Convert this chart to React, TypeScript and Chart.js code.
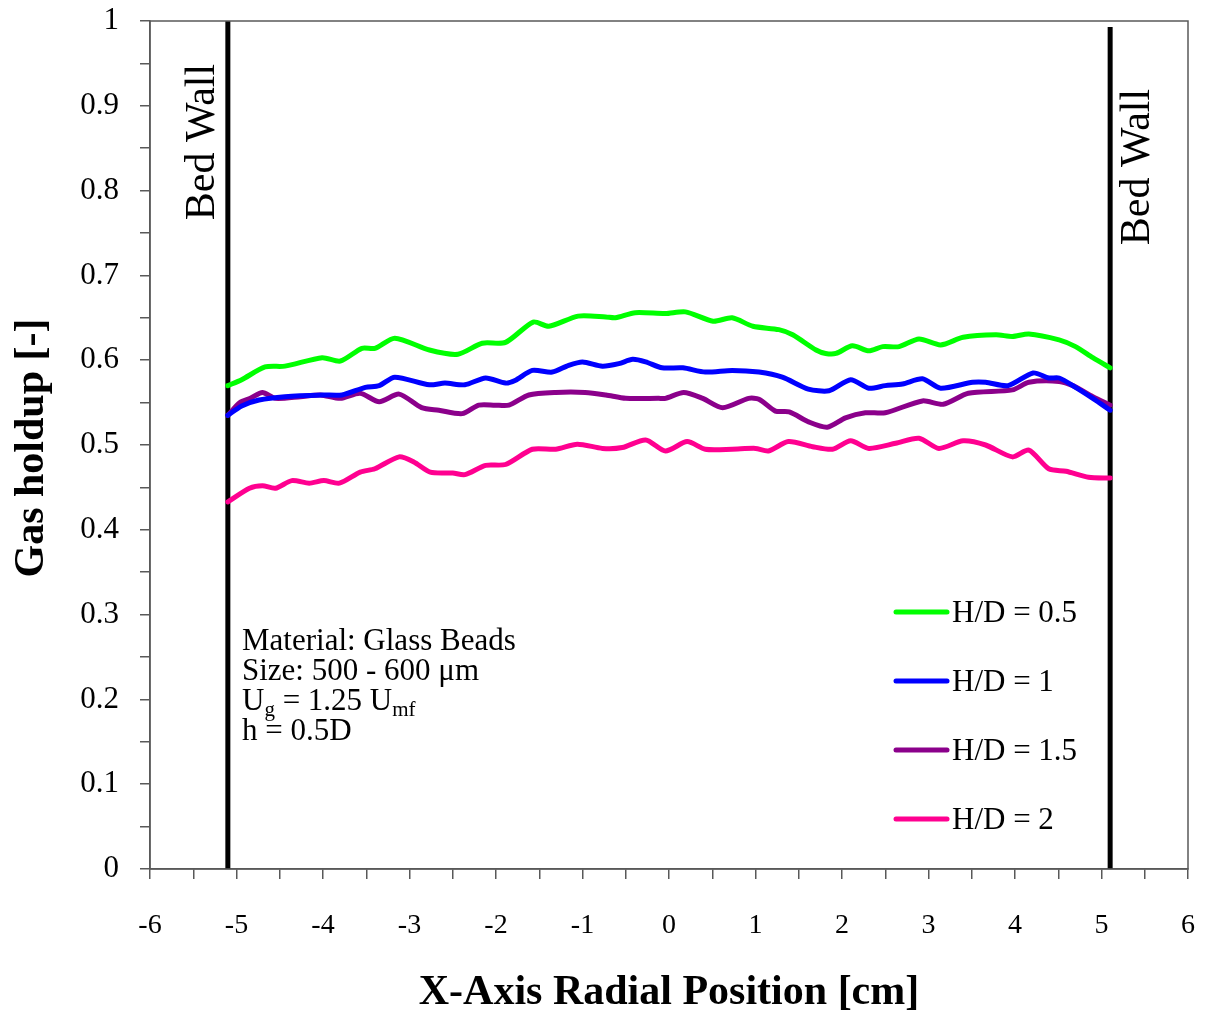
import { useEffect, useRef } from 'react';
import { Chart, registerables } from 'chart.js';
Chart.register(...registerables);

const SERIF = "'Liberation Serif', 'Times New Roman', serif";

const seriesLabels = ['H/D = 0.5', 'H/D = 1', 'H/D = 1.5', 'H/D = 2'];
const seriesColors = ['#00ff00', '#0000ff', '#8b008b', '#ff0090'];

const hd05X = [-5.1, -4.94, -4.67, -4.44, -4.01, -3.8, -3.55, -3.4, -3.17, -2.77, -2.44, -2.16, -1.89, -1.57, -1.39, -1.05, -0.73, -0.62, -0.39, -0.04, 0.19, 0.51, 0.73, 0.97, 1.27, 1.43, 1.7, 1.81, 1.93, 2.12, 2.31, 2.47, 2.66, 2.89, 3.14, 3.4, 3.78, 3.97, 4.16, 4.51, 4.7, 4.9, 5.1];
const hd05Y = [0.570, 0.577, 0.592, 0.593, 0.603, 0.599, 0.614, 0.614, 0.626, 0.612, 0.607, 0.620, 0.621, 0.645, 0.640, 0.652, 0.651, 0.650, 0.656, 0.655, 0.657, 0.646, 0.650, 0.640, 0.636, 0.630, 0.612, 0.608, 0.608, 0.617, 0.611, 0.616, 0.616, 0.625, 0.618, 0.627, 0.630, 0.628, 0.631, 0.624, 0.616, 0.603, 0.591];

const hd1X = [-5.1, -4.94, -4.74, -4.44, -4.01, -3.78, -3.51, -3.35, -3.17, -2.77, -2.59, -2.36, -2.12, -1.89, -1.78, -1.58, -1.35, -1.16, -1.0, -0.77, -0.58, -0.42, -0.27, -0.08, 0.16, 0.42, 0.73, 1.04, 1.31, 1.61, 1.85, 2.1, 2.31, 2.5, 2.7, 2.93, 3.14, 3.51, 3.66, 3.92, 4.21, 4.39, 4.51, 4.7, 4.9, 5.1];
const hd1Y = [0.535, 0.546, 0.553, 0.557, 0.559, 0.559, 0.568, 0.570, 0.580, 0.571, 0.573, 0.571, 0.579, 0.573, 0.576, 0.588, 0.586, 0.594, 0.598, 0.593, 0.596, 0.601, 0.598, 0.591, 0.591, 0.586, 0.588, 0.586, 0.580, 0.566, 0.564, 0.577, 0.567, 0.570, 0.572, 0.578, 0.567, 0.574, 0.574, 0.570, 0.585, 0.579, 0.579, 0.568, 0.555, 0.541];

const hd15X = [-5.1, -4.96, -4.84, -4.7, -4.55, -4.26, -4.03, -3.8, -3.57, -3.35, -3.12, -2.86, -2.66, -2.39, -2.2, -2.01, -1.85, -1.62, -1.31, -0.97, -0.73, -0.5, -0.12, -0.04, 0.17, 0.39, 0.62, 0.92, 1.04, 1.23, 1.39, 1.62, 1.83, 2.04, 2.27, 2.5, 2.93, 3.17, 3.46, 3.97, 4.16, 4.51, 4.67, 4.9, 5.1];
const hd15Y = [0.535, 0.550, 0.555, 0.562, 0.555, 0.557, 0.559, 0.555, 0.561, 0.551, 0.560, 0.544, 0.541, 0.537, 0.547, 0.547, 0.547, 0.559, 0.562, 0.562, 0.559, 0.555, 0.555, 0.555, 0.562, 0.555, 0.544, 0.555, 0.554, 0.540, 0.539, 0.527, 0.521, 0.532, 0.538, 0.538, 0.552, 0.548, 0.561, 0.565, 0.574, 0.575, 0.570, 0.557, 0.547];

const hd2X = [-5.1, -4.85, -4.7, -4.55, -4.36, -4.16, -3.99, -3.81, -3.57, -3.4, -3.12, -2.95, -2.76, -2.5, -2.36, -2.12, -1.89, -1.58, -1.31, -1.06, -0.77, -0.54, -0.27, -0.04, 0.21, 0.42, 0.73, 1.0, 1.15, 1.38, 1.66, 1.89, 2.1, 2.31, 2.62, 2.89, 3.12, 3.4, 3.66, 3.97, 4.16, 4.39, 4.59, 4.85, 5.1];
const hd2Y = [0.433, 0.449, 0.452, 0.449, 0.458, 0.455, 0.458, 0.455, 0.468, 0.472, 0.486, 0.480, 0.468, 0.467, 0.465, 0.476, 0.477, 0.495, 0.495, 0.501, 0.496, 0.497, 0.506, 0.493, 0.504, 0.495, 0.495, 0.496, 0.493, 0.504, 0.498, 0.495, 0.505, 0.496, 0.502, 0.508, 0.496, 0.505, 0.500, 0.486, 0.494, 0.472, 0.469, 0.462, 0.461];

const wallX = [-5.1, 5.1];
const wallTop = [1, 0.993];

const xTitle = 'X-Axis Radial Position [cm]';
const yTitle = 'Gas holdup [-]';
const wallLabel = 'Bed Wall';

const toPoints = (xs: number[], ys: number[]) => xs.map((x, i) => ({ x, y: ys[i] }));

const zeroPad = (s: any) => {
  s.paddingTop = 0;
  s.paddingBottom = 0;
  s.paddingLeft = 0;
  s.paddingRight = 0;
};

const overlay = {
  id: 'overlay',
  afterDraw(chart: any) {
    const { ctx, chartArea: a, scales } = chart;
    const xs = scales.x;
    ctx.save();
    // plot frame
    ctx.strokeStyle = '#595959';
    ctx.lineWidth = 1.5;
    ctx.strokeRect(a.left, a.top, a.right - a.left, a.bottom - a.top);

    ctx.fillStyle = '#000';
    // x title
    ctx.font = `bold 42px ${SERIF}`;
    ctx.textAlign = 'center';
    ctx.textBaseline = 'alphabetic';
    ctx.fillText(xTitle, (a.left + a.right) / 2, 1004);

    // y title
    ctx.save();
    ctx.translate(43, (a.top + a.bottom) / 2 + 3);
    ctx.rotate(-Math.PI / 2);
    ctx.fillText(yTitle, 0, 0);
    ctx.restore();

    // Bed wall labels
    ctx.font = `42px ${SERIF}`;
    const lx = xs.getPixelForValue(wallX[0]);
    const rx = xs.getPixelForValue(wallX[1]);
    ctx.save();
    ctx.translate(lx - 14, 142);
    ctx.rotate(-Math.PI / 2);
    ctx.fillText(wallLabel, 0, 0);
    ctx.restore();
    ctx.save();
    ctx.translate(rx + 39, 167);
    ctx.rotate(-Math.PI / 2);
    ctx.fillText(wallLabel, 0, 0);
    ctx.restore();

    // annotation block
    ctx.textAlign = 'left';
    const ax = 242;
    ctx.font = `31px ${SERIF}`;
    ctx.fillText('Material: Glass Beads', ax, 650);
    ctx.fillText('Size: 500 - 600 \u03bcm', ax, 680);
    let x = ax;
    ctx.fillText('U', x, 710);
    x += ctx.measureText('U').width;
    ctx.font = `21px ${SERIF}`;
    ctx.fillText('g', x, 716);
    x += ctx.measureText('g').width;
    ctx.font = `31px ${SERIF}`;
    ctx.fillText(' = 1.25 U', x, 710);
    x += ctx.measureText(' = 1.25 U').width;
    ctx.font = `21px ${SERIF}`;
    ctx.fillText('mf', x, 716);
    ctx.font = `31px ${SERIF}`;
    ctx.fillText('h = 0.5D', ax, 740);

    // legend
    const rows = [612, 681, 750, 819];
    seriesLabels.forEach((lab, i) => {
      const y = rows[i];
      ctx.strokeStyle = seriesColors[i];
      ctx.lineWidth = 5;
      ctx.lineCap = 'round';
      ctx.beginPath();
      ctx.moveTo(896, y);
      ctx.lineTo(947, y);
      ctx.stroke();
      ctx.fillStyle = '#000';
      ctx.font = `31px ${SERIF}`;
      ctx.fillText(lab, 952, y + 10);
    });
    ctx.restore();
  },
};

export default function App() {
  const ref = useRef<HTMLCanvasElement | null>(null);
  useEffect(() => {
    if (!ref.current) return;
    const seriesX = [hd05X, hd1X, hd15X, hd2X];
    const seriesY = [hd05Y, hd1Y, hd15Y, hd2Y];
    const datasets: any[] = seriesLabels.map((lab, i) => ({
      label: lab,
      data: toPoints(seriesX[i], seriesY[i]),
      borderColor: seriesColors[i],
      backgroundColor: seriesColors[i],
      borderWidth: 5,
      pointRadius: 0,
      tension: 0.25,
      borderCapStyle: 'round',
      borderJoinStyle: 'round',
      fill: false,
    }));
    wallX.forEach((wx, i) => {
      datasets.push({
        label: 'wall' + i,
        data: [{ x: wx, y: 0 }, { x: wx, y: wallTop[i] }],
        borderColor: '#000',
        borderWidth: 5,
        pointRadius: 0,
        fill: false,
        clip: false,
      });
    });
    const chart = new Chart(ref.current, {
      type: 'line',
      data: { datasets },
      plugins: [overlay],
      options: {
        animation: false,
        responsive: false,
        devicePixelRatio: 1,
        layout: { padding: { left: 0, top: 21, right: 27, bottom: 0 } },
        plugins: { legend: { display: false }, tooltip: { enabled: false } },
        scales: {
          x: {
            type: 'linear',
            min: -6,
            max: 6,
            afterFit(s: any) { s.height = 147; zeroPad(s); },
            border: { color: '#595959', width: 1.5 },
            grid: { drawOnChartArea: false, drawTicks: true, tickLength: 10, color: '#595959', lineWidth: 1.5 },
            ticks: {
              stepSize: 0.5,
              autoSkip: false,
              maxRotation: 0,
              padding: 30,
              color: '#000',
              font: { family: SERIF, size: 28 },
              callback: (v: any) => {
                const n = Math.round(Number(v) * 2);
                return n % 2 === 0 ? String(n / 2) : '';
              },
            },
          },
          y: {
            type: 'linear',
            min: 0,
            max: 1,
            afterFit(s: any) { s.width = 150; zeroPad(s); },
            border: { color: '#595959', width: 1.5 },
            grid: { drawOnChartArea: false, drawTicks: true, tickLength: 10, color: '#595959', lineWidth: 1.5 },
            ticks: {
              stepSize: 0.05,
              autoSkip: false,
              padding: 21,
              color: '#000',
              font: { family: SERIF, size: 31 },
              callback: (v: any) => {
                const n = Math.round(Number(v) * 100);
                return n % 10 === 0 ? String(n / 100) : '';
              },
            },
          },
        },
      },
    });
    return () => chart.destroy();
  }, []);
  return (
    <div style={{ position: 'absolute', left: 0, top: 0, width: 1215, height: 1016, background: '#fff' }}>
      <canvas ref={ref} width={1215} height={1016} style={{ width: 1215, height: 1016, display: 'block' }} />
    </div>
  );
}
